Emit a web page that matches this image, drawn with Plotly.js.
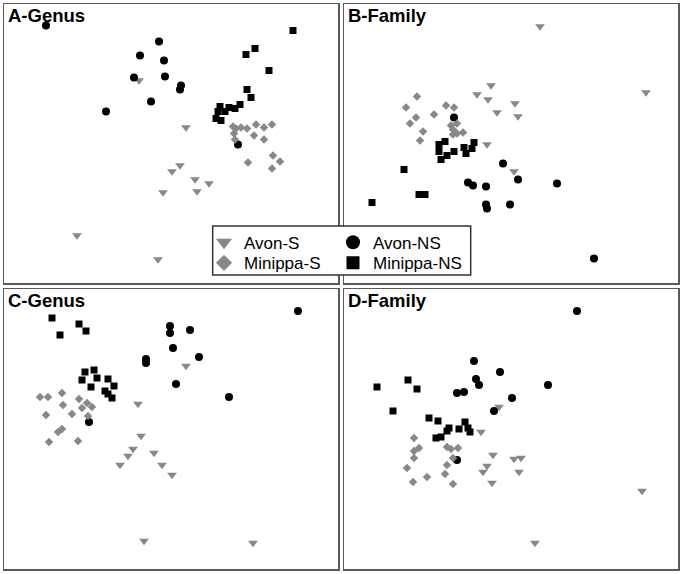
<!DOCTYPE html>
<html>
<head>
<meta charset="utf-8">
<script src="https://cdn.plot.ly/plotly-3.0.1.min.js"></script>
<style>html,body{margin:0;padding:0;background:#fff;}#chart{width:684px;height:574px;}</style>
</head>
<body>
<div id="chart"></div>
<script>
// Groups (legend labels)
const groups = ["Avon-S", "Avon-NS", "Minippa-S", "Minippa-NS"];
const panelTitles = ["A-Genus", "B-Family", "C-Genus", "D-Family"];

// ---- Panel A (Genus) ----
const aAvonS_x = [0.15, 0.01, 0.09, -0.08, 0.24, 0.26, 0.38, -0.32, -0.94, -0.13];
const aAvonS_y = [0.16, -0.28, -0.22, -0.49, -0.36, -0.48, -0.40, 0.63, -0.92, -1.16];
const aAvonNS_x = [-1.25, -0.12, -0.31, -0.07, -0.37, -0.06, -0.20, -0.65, 0.09, 0.10, 0.67];
const aAvonNS_y = [1.18, 1.02, 0.88, 0.83, 0.66, 0.67, 0.42, 0.32, 0.54, 0.58, -0.01];
const aMinS_x = [0.62, 0.70, 0.76, 0.85, 0.93, 1.01, 0.63, 0.83, 0.93, 0.64, 1.02, 1.09, 1.01, 0.77, 0.65];
const aMinS_y = [0.17, 0.16, 0.15, 0.19, 0.16, 0.19, 0.10, 0.08, 0.04, 0.04, -0.12, -0.18, -0.25, -0.19, 0.15];
const aMinNS_x = [1.22, 0.84, 0.75, 0.98, 0.76, 0.80, 0.69, 0.64, 0.58, 0.54, 0.49, 0.47, 0.45, 0.50];
const aMinNS_y = [1.13, 0.95, 0.89, 0.73, 0.54, 0.46, 0.39, 0.35, 0.36, 0.32, 0.37, 0.32, 0.25, 0.23];

// ---- Panel B (Family) ----
const bAvonS_x = [-0.20, -0.34, -0.23, -0.14, -0.24, 0.29, 1.35, 0.04, 0.07, 0.03];
const bAvonS_y = [0.58, 0.49, 0.44, 0.31, -0.01, 1.17, 0.51, 0.40, 0.27, -0.28];
const bAvonNS_x = [-0.57, -0.08, -0.43, -0.38, -0.25, -0.25, -0.24, -0.01, 0.07, 0.46, 0.83];
const bAvonNS_y = [0.26, -0.20, -0.39, -0.42, -0.43, -0.61, -0.65, -0.61, -0.36, -0.40, -1.15];
const bMinS_x = [-0.94, -1.05, -0.95, -1.01, -0.77, -0.65, -0.57, -0.60, -0.54, -0.58, -0.54, -0.48, -0.58, -0.88, -0.91];
const bMinS_y = [0.47, 0.36, 0.26, 0.20, 0.29, 0.38, 0.36, 0.18, 0.20, 0.14, 0.10, 0.11, 0.09, 0.12, 0.03];
const bMinNS_x = [-0.72, -0.66, -0.72, -0.70, -0.64, -0.57, -0.47, -0.45, -0.39, -0.37, -1.07, -0.92, -0.86, -1.39];
const bMinNS_y = [-0.01, 0.02, -0.08, -0.16, -0.12, -0.08, -0.04, -0.10, -0.05, 0.01, -0.26, -0.51, -0.51, -0.59];

// ---- Panel C (Genus) ----
const cAvonS_x = [-0.33, -0.30, -0.38, -0.43, -0.51, -0.17, -0.09, 0.01, -0.27, 0.15, 0.82];
const cAvonS_y = [0.25, -0.07, -0.20, -0.27, -0.36, -0.24, -0.36, -0.46, -1.12, 0.63, -1.14];
const cAvonNS_x = [-0.25, -0.25, -0.82, -0.01, -0.01, 0.19, 0.02, 0.28, 0.05, 0.58, 1.27];
const cAvonNS_y = [0.70, 0.66, 0.07, 1.03, 0.96, 0.99, 0.81, 0.72, 0.45, 0.32, 1.18];
const cMinS_x = [-1.31, -1.23, -1.09, -1.08, -1.25, -0.99, -0.92, -0.84, -0.89, -0.79, -0.83, -1.09, -1.13, -1.22, -0.93];
const cMinS_y = [0.32, 0.32, 0.36, 0.24, 0.14, 0.15, 0.30, 0.26, 0.21, 0.22, 0.13, 0.00, -0.03, -0.13, -0.12];
const cMinNS_x = [-1.19, -1.11, -0.92, -0.85, -0.86, -0.77, -0.89, -0.74, -0.80, -0.63, -0.57, -0.66, -0.63, -0.59];
const cMinNS_y = [1.11, 0.94, 1.05, 0.98, 0.57, 0.59, 0.49, 0.51, 0.42, 0.50, 0.43, 0.38, 0.35, 0.31];

// ---- Panel D (Family) ----
const dAvonS_x = [-0.12, -0.30, -0.18, -0.24, -0.28, -0.19, 0.03, 0.10, 0.08, 1.31, 0.24];
const dAvonS_y = [0.22, -0.03, -0.26, -0.37, -0.43, -0.54, -0.30, -0.29, -0.43, -0.62, -1.14];
const dAvonNS_x = [-0.37, -0.11, -0.35, -0.32, -0.54, -0.47, -0.17, -0.54, 0.66, 0.37, 0.01];
const dAvonNS_y = [0.68, 0.57, 0.50, 0.44, 0.36, 0.37, 0.18, -0.31, 1.18, 0.44, 0.31];
const dMinS_x = [-0.97, -0.92, -0.97, -0.97, -1.04, -0.98, -0.84, -0.64, -0.60, -0.53, -0.58, -0.64, -0.66, -0.58];
const dMinS_y = [-0.09, -0.19, -0.22, -0.29, -0.39, -0.53, -0.48, -0.18, -0.20, -0.19, -0.29, -0.36, -0.45, -0.55];
const dMinNS_x = [-1.34, -1.03, -0.94, -1.18, -0.82, -0.73, -0.62, -0.64, -0.52, -0.46, -0.43, -0.41, -0.75, -0.70];
const dMinNS_y = [0.42, 0.49, 0.40, 0.18, 0.11, 0.08, 0.01, -0.02, 0.00, 0.07, 0.01, -0.03, -0.09, -0.08];

const panels = [
  [[aAvonS_x, aAvonS_y], [aAvonNS_x, aAvonNS_y], [aMinS_x, aMinS_y], [aMinNS_x, aMinNS_y]],
  [[bAvonS_x, bAvonS_y], [bAvonNS_x, bAvonNS_y], [bMinS_x, bMinS_y], [bMinNS_x, bMinNS_y]],
  [[cAvonS_x, cAvonS_y], [cAvonNS_x, cAvonNS_y], [cMinS_x, cMinS_y], [cMinNS_x, cMinNS_y]],
  [[dAvonS_x, dAvonS_y], [dAvonNS_x, dAvonNS_y], [dMinS_x, dMinS_y], [dMinNS_x, dMinNS_y]]
];

const GREY = "#8b8688";
const styles = [
  {symbol: "triangle-down", color: GREY, size: 8.5, legSize: 14},
  {symbol: "circle", color: "#000000", size: 8, legSize: 14},
  {symbol: "diamond", color: GREY, size: 6.5, legSize: 12.5},
  {symbol: "square", color: "#000000", size: 7, legSize: 13}
];

const W = 684, H = 574;
const px = v => v / W;
const py = v => 1 - v / H;

const traces = [];
panels.forEach((p, pi) => {
  const ax = pi === 0 ? "" : String(pi + 1);
  p.forEach((s, gi) => {
    traces.push({
      type: "scatter", mode: "markers",
      x: s[0], y: s[1],
      xaxis: "x" + ax, yaxis: "y" + ax,
      name: groups[gi], showlegend: false, hoverinfo: "skip",
      marker: {symbol: styles[gi].symbol, color: styles[gi].color, size: styles[gi].size, line: {width: 0}}
    });
  });
});
// legend entries
const legendIds = ["legend", "legend2", "legend3", "legend4"];
groups.forEach((g, gi) => {
  traces.push({
    type: "scatter", mode: "markers", x: [null], y: [null],
    name: g, showlegend: true, legend: legendIds[gi], hoverinfo: "skip",
    marker: {symbol: styles[gi].symbol, color: styles[gi].color, size: styles[gi].legSize, line: {width: 0}}
  });
});

const axisCommon = {
  showgrid: false, zeroline: false, showticklabels: false, ticks: "",
  showline: true, mirror: true, linecolor: "#5a5a5a", linewidth: 1.5, fixedrange: true
};
const xr = [-1.67, 1.67];
const dom = {
  xL: [px(4), px(338)], xR: [px(344), px(678)],
  yT: [py(283), py(4)], yB: [py(569), py(289)]
};

const legFont = {family: "Liberation Sans, Arial, sans-serif", size: 17, color: "#000"};
function leg(xc, yc) {
  return {x: px(xc - 20), y: py(yc), xanchor: "left", yanchor: "middle",
          bgcolor: "rgba(0,0,0,0)", borderwidth: 0, font: legFont, itemsizing: "trace"};
}

const titleFont = {family: "Liberation Sans, Arial, sans-serif", size: 18.5, color: "#000", weight: "bold"};
const titlePos = [[6, 2.5], [346, 2.5], [6, 287.5], [346, 287.5]];
const annotations = panelTitles.map((t, i) => ({
  text: "<b>" + t + "</b>", xref: "paper", yref: "paper",
  x: px(titlePos[i][0]), y: py(titlePos[i][1]), xanchor: "left", yanchor: "top",
  showarrow: false, font: titleFont
}));

const layout = {
  width: W, height: H,
  margin: {l: 0, r: 0, t: 0, b: 0, pad: 0},
  paper_bgcolor: "#ffffff", plot_bgcolor: "#ffffff",
  showlegend: true,
  xaxis: Object.assign({}, axisCommon, {domain: dom.xL, range: xr, anchor: "y"}),
  yaxis: Object.assign({}, axisCommon, {domain: dom.yT, range: [-1.395, 1.395], anchor: "x"}),
  xaxis2: Object.assign({}, axisCommon, {domain: dom.xR, range: xr, anchor: "y2"}),
  yaxis2: Object.assign({}, axisCommon, {domain: dom.yT, range: [-1.395, 1.395], anchor: "x2"}),
  xaxis3: Object.assign({}, axisCommon, {domain: dom.xL, range: xr, anchor: "y3"}),
  yaxis3: Object.assign({}, axisCommon, {domain: dom.yB, range: [-1.40, 1.40], anchor: "x3"}),
  xaxis4: Object.assign({}, axisCommon, {domain: dom.xR, range: xr, anchor: "y4"}),
  yaxis4: Object.assign({}, axisCommon, {domain: dom.yB, range: [-1.40, 1.40], anchor: "x4"}),
  legend: leg(224, 242.7),
  legend2: leg(353, 242.7),
  legend3: leg(224, 263.3),
  legend4: leg(353, 263.3),
  shapes: [{
    type: "rect", xref: "paper", yref: "paper", layer: "above",
    x0: px(212.7), x1: px(470.7), y0: py(275), y1: py(226),
    fillcolor: "#ffffff", line: {color: "#333333", width: 1.5}
  }],
  annotations: annotations
};

Plotly.newPlot("chart", traces, layout, {staticPlot: true, displayModeBar: false});
</script>
</body>
</html>
